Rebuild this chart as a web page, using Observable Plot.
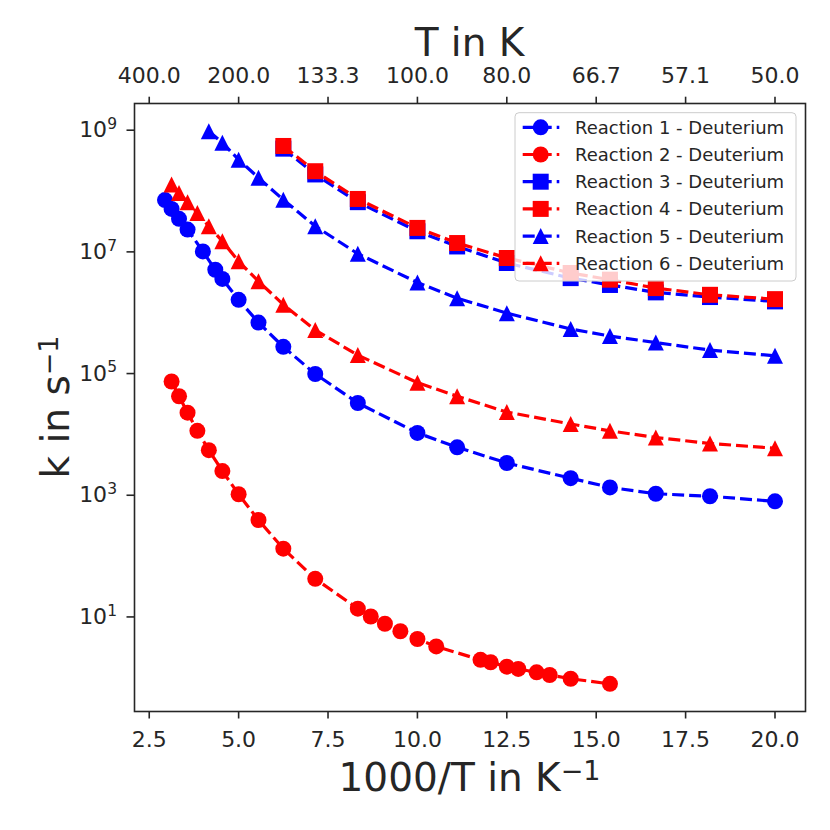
<!DOCTYPE html>
<html>
<head>
<meta charset="utf-8">
<script src="https://cdn.jsdelivr.net/npm/d3@7"></script>
<script src="https://cdn.jsdelivr.net/npm/@observablehq/plot@0.6"></script>
<style>
  html, body { margin: 0; padding: 0; background: #fff; }
  #chart svg { display: block; }
</style>
</head>
<body>
<div id="chart"></div>
<script>
// ---- data (temperatures in K, rate constants in s^-1) ----
const seriesNames = [
  "Reaction 1 - Deuterium", "Reaction 2 - Deuterium", "Reaction 3 - Deuterium",
  "Reaction 4 - Deuterium", "Reaction 5 - Deuterium", "Reaction 6 - Deuterium"
];
const seriesColors = ["#0000ff", "#ff0000", "#0000ff", "#ff0000", "#0000ff", "#ff0000"];
const seriesShapes = ["circle", "circle", "square", "square", "triangle", "triangle"];

const r1T = [340, 320, 300, 280, 250, 230, 220, 200, 180, 160, 140, 120, 100, 90, 80, 70, 65, 60, 55, 50];
const r1K = [6.7e7, 4.8e7, 3.3e7, 2.2e7, 9.6e6, 4.8e6, 3.4e6, 1.54e6, 6.5e5, 2.6e5, 9.3e4, 3.1e4, 1.0e4, 5.8e3, 3.2e3, 1.8e3, 1.27e3, 1.0e3, 9.1e2, 7.5e2];

const r2T = [320, 300, 280, 260, 240, 220, 200, 180, 160, 140, 120, 115, 110, 105, 100, 95, 85, 83, 80, 78, 75, 73, 70, 65];
const r2K = [7.0e4, 4.0e4, 2.15e4, 1.08e4, 5.2e3, 2.36e3, 9.8e2, 3.7e2, 1.25e2, 40, 12.9, 9.6, 7.3, 5.5, 4.1, 3.1, 1.86, 1.70, 1.44, 1.32, 1.16, 1.05, 0.91, 0.75];

const r3T = [160, 140, 120, 100, 90, 80, 70, 65, 60, 55, 50];
const r3K = [4.7e8, 1.77e8, 6.2e7, 2.06e7, 1.16e7, 6.2e6, 3.5e6, 2.7e6, 2.04e6, 1.71e6, 1.45e6];

const r4T = [160, 140, 120, 100, 90, 80, 70, 65, 60, 55, 50];
const r4K = [5.2e8, 2.0e8, 7.0e7, 2.34e7, 1.32e7, 7.5e6, 4.25e6, 3.3e6, 2.4e6, 1.86e6, 1.58e6];

const r5T = [240, 220, 200, 180, 160, 140, 120, 100, 90, 80, 70, 65, 60, 55, 50];
const r5K = [9.1e8, 5.9e8, 3.1e8, 1.56e8, 6.8e7, 2.5e7, 8.8e6, 2.97e6, 1.64e6, 9.3e5, 5.1e5, 3.9e5, 3.05e5, 2.3e5, 1.85e5];

const r6T = [320, 300, 280, 260, 240, 220, 200, 180, 160, 140, 120, 100, 90, 80, 70, 65, 60, 55, 50];
const r6K = [1.21e8, 8.8e7, 6.2e7, 4.1e7, 2.5e7, 1.41e7, 6.6e6, 3.1e6, 1.28e6, 4.9e5, 1.9e5, 6.7e4, 4.0e4, 2.2e4, 1.4e4, 1.08e4, 8.4e3, 6.7e3, 5.6e3];

// ---- tick labels ----
const xTicks = [2.5, 5.0, 7.5, 10.0, 12.5, 15.0, 17.5, 20.0];
const xTickLabels = ["2.5", "5.0", "7.5", "10.0", "12.5", "15.0", "17.5", "20.0"];
const topTickLabels = ["400.0", "200.0", "133.3", "100.0", "80.0", "66.7", "57.1", "50.0"];
const yTicks = [1e1, 1e3, 1e5, 1e7, 1e9];
const yTickBase = "10";
const yTickExp = ["1", "3", "5", "7", "9"];

// ---- build tables ----
const allT = [r1T, r2T, r3T, r4T, r5T, r6T];
const allK = [r1K, r2K, r3K, r4K, r5K, r6K];
const series = seriesNames.map((name, i) => ({
  name, color: seriesColors[i], shape: seriesShapes[i],
  rows: allT[i].map((T, j) => ({x: 1000 / T, k: allK[i][j]}))
}));

// matplotlib-like marker shapes (size = pi r^2 as passed by Plot)
const symbols = {
  circle: {draw(ctx, size) { const r = Math.sqrt(size / Math.PI); ctx.moveTo(r, 0); ctx.arc(0, 0, r, 0, 2 * Math.PI); ctx.closePath(); }},
  square: {draw(ctx, size) { const r = Math.sqrt(size / Math.PI); ctx.rect(-r, -r, 2 * r, 2 * r); }},
  triangle: {draw(ctx, size) { const r = Math.sqrt(size / Math.PI); ctx.moveTo(0, -r); ctx.lineTo(r, r); ctx.lineTo(-r, r); ctx.closePath(); }}
};

const R = 8;
const LW = 3.2;
const DASH = "12,5";
const INK = "#262626";
const FS = 22;

const marks = [];
for (const s of series) {
  marks.push(Plot.line(s.rows, {x: "x", y: "k", stroke: s.color, strokeWidth: LW, strokeDasharray: DASH, strokeLinecap: "butt", strokeLinejoin: "round"}));
  marks.push(Plot.dot(s.rows, {x: "x", y: "k", symbol: symbols[s.shape], fill: s.color, stroke: "none", r: R}));
}

const chart = Plot.plot({
  width: 830,
  height: 830,
  marginLeft: 134,
  marginRight: 25,
  marginTop: 103,
  marginBottom: 119,
  style: {fontFamily: "DejaVu Sans", fontSize: FS + "px", color: INK, background: "#fff", overflow: "visible"},
  x: {domain: [2.088, 20.853]},
  y: {type: "log", domain: [Math.pow(10, -0.579), Math.pow(10, 9.414)]},
  marks: [
    ...marks,
    Plot.axisX({anchor: "bottom", ticks: xTicks, tickFormat: d => xTickLabels[xTicks.indexOf(d)], tickSize: 7.5, tickPadding: 12.5, strokeWidth: 1.6, label: null}),
    Plot.axisX({anchor: "top", ticks: xTicks, tickFormat: d => topTickLabels[xTicks.indexOf(d)], tickSize: 7.3, tickPadding: 13, strokeWidth: 1.6, label: null}),
    Plot.axisY({anchor: "left", ticks: yTicks, tickFormat: d => yTickBase + yTickExp[yTicks.indexOf(d)], tickSize: 7.5, tickPadding: 10, dy: 1.5, strokeWidth: 1.6, label: null}),
    Plot.frame({stroke: INK, strokeWidth: 1.6})
  ]
});
document.getElementById("chart").appendChild(chart);

const svg = d3.select(chart);

// render y tick exponents as real superscripts (mathtext-like)
svg.selectAll('g[aria-label="y-axis tick label"] text').each(function () {
  const t = d3.select(this);
  const s = t.text();
  const exp = s.slice(yTickBase.length);
  t.text(null);
  t.append("tspan").text(yTickBase);
  t.append("tspan").attr("font-size", 15.5).attr("dy", -8.3).text(exp);
});

// ---- axis titles ----
const cx = 469.5;
svg.append("text").attr("x", cx).attr("y", 56).attr("text-anchor", "middle")
  .attr("font-family", "DejaVu Sans").attr("font-size", 39).attr("fill", INK).text("T in K");

const t2 = svg.append("text").attr("x", cx).attr("y", 790.7).attr("text-anchor", "middle")
  .attr("font-family", "DejaVu Sans").attr("font-size", 39).attr("fill", INK);
t2.append("tspan").text("1000/T in K");
t2.append("tspan").attr("font-size", 27).attr("dy", -11).text("\u22121");

const t3 = svg.append("text").attr("transform", "translate(69,407) rotate(-90)").attr("text-anchor", "middle")
  .attr("font-family", "DejaVu Sans").attr("font-size", 39).attr("fill", INK);
t3.append("tspan").text("k in s");
t3.append("tspan").attr("font-size", 27).attr("dy", -11).text("\u22121");

// ---- legend ----
const lg = svg.append("g").attr("font-family", "DejaVu Sans").attr("font-size", 18).attr("text-anchor", "start");
lg.append("rect").attr("x", 515).attr("y", 112.7).attr("width", 281).attr("height", 168.3).attr("rx", 4)
  .attr("fill", "#fff").attr("fill-opacity", 0.8).attr("stroke", "#cccccc").attr("stroke-width", 1);
series.forEach((s, i) => {
  const y = 127.3 + i * 27.2;
  lg.append("line").attr("x1", 522.7).attr("x2", 559.3).attr("y1", y).attr("y2", y)
    .attr("stroke", s.color).attr("stroke-width", LW).attr("stroke-dasharray", DASH);
  lg.append("path").attr("transform", `translate(540.7,${y})`)
    .attr("d", d3.symbol(symbols[s.shape], Math.PI * R * R)()).attr("fill", s.color);
  lg.append("text").attr("x", 575).attr("y", y).attr("dy", "0.36em").attr("text-anchor", "start").attr("fill", INK).text(s.name);
});
</script>
</body>
</html>
